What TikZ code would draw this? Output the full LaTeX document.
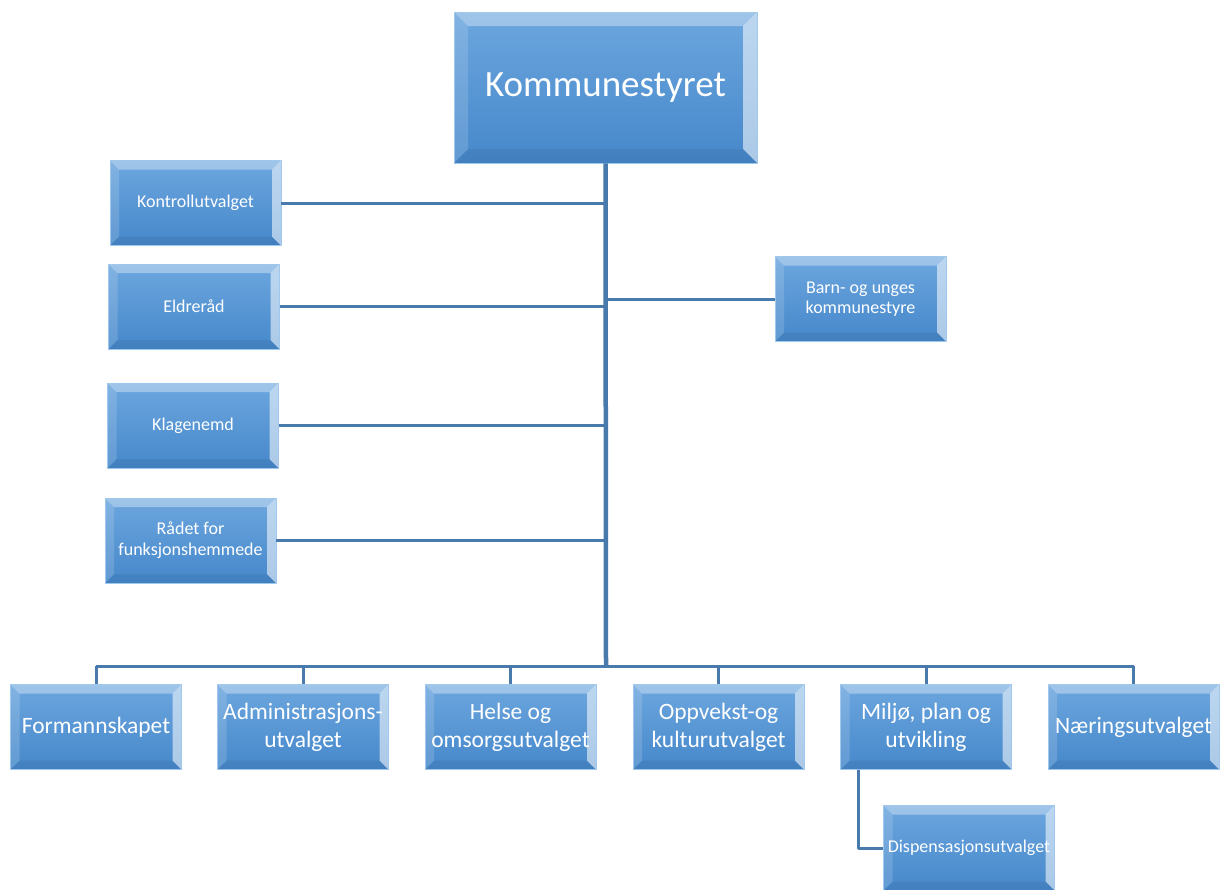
\documentclass[tikz,border=0pt]{standalone}
\usepackage{fontspec}
\setmainfont{Carlito}
\definecolor{boxtop}{RGB}{108,166,222}
\definecolor{boxbot}{RGB}{70,136,203}
\definecolor{boxedge}{RGB}{160,200,236}
\definecolor{lineblue}{RGB}{72,122,172}
\tikzset{
	bevel/.store in=\bevsize, bevel=9pt,
	orgbox/.style={draw=boxedge, line width=.8pt, top color=boxtop, bottom color=boxbot,
		text=white, align=center, inner sep=1pt, minimum width=171pt, minimum height=85pt,
		path picture={
			% skrå kanter (bevel)
			\fill[white, opacity=.35] (path picture bounding box.north west) -- (path picture bounding box.north east)
			-- ([xshift=-\bevsize,yshift=-\bevsize]path picture bounding box.north east) -- ([xshift=\bevsize,yshift=-\bevsize]path picture bounding box.north west) -- cycle;
			\fill[white, opacity=.55] (path picture bounding box.north east) -- (path picture bounding box.south east)
			-- ([xshift=-\bevsize,yshift=\bevsize]path picture bounding box.south east) -- ([xshift=-\bevsize,yshift=-\bevsize]path picture bounding box.north east) -- cycle;
			\fill[white, opacity=.15] (path picture bounding box.north west) -- (path picture bounding box.south west)
			-- ([xshift=\bevsize,yshift=\bevsize]path picture bounding box.south west) -- ([xshift=\bevsize,yshift=-\bevsize]path picture bounding box.north west) -- cycle;
			\fill[black, opacity=.06] (path picture bounding box.south west) -- (path picture bounding box.south east)
			-- ([xshift=-\bevsize,yshift=\bevsize]path picture bounding box.south east) -- ([xshift=\bevsize,yshift=\bevsize]path picture bounding box.south west) -- cycle;
	}},
	smallbox/.style={orgbox, font=\fontsize{18}{21}\selectfont},
	bigbox/.style={orgbox, font=\fontsize{23.5}{28}\selectfont},
	link/.style={draw=lineblue, line width=3pt},
}
\begin{document}
\begin{tikzpicture}[x=1pt,y=-1pt, line join=round]
				\useasboundingbox (0,0) rectangle (1223,889);
				% Øverste nivå
				\node[orgbox, bevel=14pt, minimum width=303pt, minimum height=151pt, font=\fontsize{37}{44}\selectfont] (styre) at (605.5,87.5) {Kommunestyret};
				\coordinate (hub) at (606,666);
				% Råd og utvalg ved siden av stammen
				\node[smallbox] (kontroll) at (195.5,203) {Kontrollutvalget};
				\node[smallbox] (eldre) at (194,306.5) {Eldreråd};
				\node[smallbox] (klage) at (193,425.5) {Klagenemd};
				\node[smallbox] (raadet) at (190.5,540.5) {Rådet for\\funksjonshemmede};
				\node[smallbox, font=\fontsize{18}{20}\selectfont] (barn) at (860.5,299) {Barn- og unges\\kommunestyre};
				% Utvalgene nederst
				\node[bigbox] (formann) at (96,727) {Formannskapet};
				\node[bigbox] (admin) at (303,727) {Administrasjons-\\utvalget};
				\node[bigbox] (helse) at (510.5,727) {Helse og\\omsorgsutvalget};
				\node[bigbox] (oppvekst) at (718.5,727) {Oppvekst-og\\kulturutvalget};
				\node[bigbox] (miljo) at (926,727) {Miljø, plan og\\utvikling};
				\node[bigbox] (naering) at (1133.5,727) {Næringsutvalget};
				\node[smallbox] (disp) at (969,848) {Dispensasjonsutvalget};
				% Linjer
				\draw[link, line width=4.5pt] (styre.south) -- (hub);
				\draw[link] (kontroll.east) -- (kontroll.east -| hub);
				\draw[link] (eldre.east) -- (eldre.east -| hub);
				\draw[link] (klage.east) -- (klage.east -| hub);
				\draw[link] (raadet.east) -- (raadet.east -| hub);
				\draw[link] (barn.west) -- (barn.west -| hub);
				\draw[link] (formann.north |- hub) -- (naering.north |- hub);
				\draw[link] (formann.north) -- (formann.north |- hub);
				\draw[link] (admin.north) -- (admin.north |- hub);
				\draw[link] (helse.north) -- (helse.north |- hub);
				\draw[link] (oppvekst.north) -- (oppvekst.north |- hub);
				\draw[link] (miljo.north) -- (miljo.north |- hub);
				\draw[link] (naering.north) -- (naering.north |- hub);
				\coordinate (mj) at ([xshift=18pt]miljo.south west);
				\draw[link] (mj) |- (disp.west);
			\end{tikzpicture}
\end{document}
